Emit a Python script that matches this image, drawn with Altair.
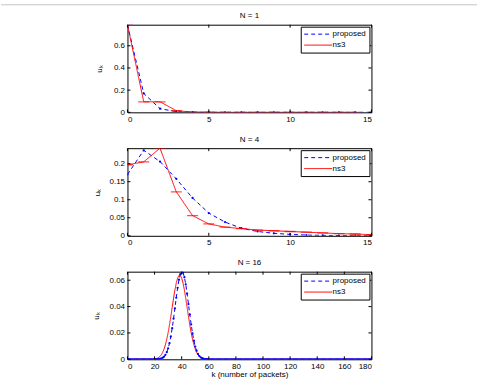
import altair as alt
import pandas as pd

FONT = "Liberation Sans"
BLUE = "#0000ff"
RED = "#ff0000"

# ---------------- N = 1 ----------------
k_n1_prop = [0, 1, 2, 3, 4, 5, 6, 7, 8, 9, 10, 11, 12, 13, 14, 15]
prop_n1 = [0.79, 0.17, 0.033, 0.006, 0.001, 0.0002, 0.0, 0.0, 0.0, 0.0, 0.0, 0.0, 0.0, 0.0, 0.0, 0.0]
k_n1_ns3 = [0, 1, 2, 3, 4, 5, 6, 7, 8, 9, 10, 11, 12, 13, 14]
ns3_n1 = [0.79, 0.095, 0.095, 0.015, 0.002, 0.0005, 0.0, 0.0, 0.0, 0.0, 0.0, 0.0, 0.0, 0.0, 0.0]

# ---------------- N = 4 ----------------
k_n4 = [0, 1, 2, 3, 4, 5, 6, 7, 8, 9, 10, 11, 12, 13, 14, 15]
prop_n4 = [0.17, 0.237, 0.206, 0.158, 0.105, 0.063, 0.038, 0.021, 0.012, 0.007,
           0.004, 0.002, 0.0012, 0.0007, 0.0004, 0.0002]
ns3_n4 = [0.197, 0.205, 0.243, 0.122, 0.056, 0.033, 0.024, 0.020, 0.016, 0.014,
          0.012, 0.010, 0.008, 0.006, 0.005, 0.003]

# ---------------- N = 16 ----------------
k_n16 = list(range(181))
prop_n16 = [
    0, 0, 0, 0, 0, 0, 0, 0, 0, 0,
    0, 0, 0, 0, 0, 0, 0, 0, 0, 0,
    0, 0.00005, 0.0001, 0.0002, 0.0004, 0.0007, 0.0012, 0.0020, 0.0034, 0.0054,
    0.0083, 0.0122, 0.0173, 0.0236, 0.0308, 0.0387, 0.0467, 0.0542, 0.0604, 0.0646,
    0.0664, 0.0657, 0.0623, 0.0569, 0.0498, 0.0419, 0.0339, 0.0264, 0.0197, 0.0141,
    0.0097, 0.0065, 0.0041, 0.0025, 0.0015, 0.0008, 0.0005, 0.0002, 0.0001, 0.00005,
    0, 0, 0, 0, 0, 0, 0, 0, 0, 0,
    0, 0, 0, 0, 0, 0, 0, 0, 0, 0,
    0, 0, 0, 0, 0, 0, 0, 0, 0, 0,
    0, 0, 0, 0, 0, 0, 0, 0, 0, 0,
    0, 0, 0, 0, 0, 0, 0, 0, 0, 0,
    0, 0, 0, 0, 0, 0, 0, 0, 0, 0,
    0, 0, 0, 0, 0, 0, 0, 0, 0, 0,
    0, 0, 0, 0, 0, 0, 0, 0, 0, 0,
    0, 0, 0, 0, 0, 0, 0, 0, 0, 0,
    0, 0, 0, 0, 0, 0, 0, 0, 0, 0,
    0, 0, 0, 0, 0, 0, 0, 0, 0, 0,
    0, 0, 0, 0, 0, 0, 0, 0, 0, 0,
    0,
]
ns3_n16 = [
    0, 0, 0, 0, 0, 0, 0, 0, 0, 0,
    0, 0, 0, 0, 0, 0, 0, 0.00005, 0.0001, 0.00015,
    0.0003, 0.0005, 0.0008, 0.0014, 0.0022, 0.0035, 0.0053, 0.0078, 0.0110, 0.0152,
    0.0202, 0.0261, 0.0326, 0.0395, 0.0463, 0.0526, 0.0579, 0.0617, 0.0637, 0.0637,
    0.0617, 0.0579, 0.0526, 0.0463, 0.0395, 0.0326, 0.0261, 0.0202, 0.0152, 0.0110,
    0.0078, 0.0053, 0.0035, 0.0022, 0.0014, 0.0008, 0.0005, 0.0003, 0.00015, 0.0001,
    0.00005, 0, 0, 0, 0, 0, 0, 0, 0, 0,
    0, 0, 0, 0, 0, 0, 0, 0, 0, 0,
    0, 0, 0, 0, 0, 0, 0, 0, 0, 0,
    0, 0, 0, 0, 0, 0, 0, 0, 0, 0,
    0, 0, 0, 0, 0, 0, 0, 0, 0, 0,
    0, 0, 0, 0, 0, 0, 0, 0, 0, 0,
    0, 0, 0, 0, 0, 0, 0, 0, 0, 0,
    0, 0, 0, 0, 0, 0, 0, 0, 0, 0,
    0, 0, 0, 0, 0, 0, 0, 0, 0, 0,
    0, 0, 0, 0, 0, 0, 0, 0, 0, 0,
    0, 0, 0, 0, 0, 0, 0, 0, 0, 0,
    0, 0, 0, 0, 0, 0, 0, 0, 0, 0,
    0,
]

xticks_small = [0, 5, 10, 15]
xticks_large = [0, 20, 40, 60, 80, 100, 120, 140, 160, 180]
yticks_n1 = [0, 0.2, 0.4, 0.6]
yticks_n4 = [0, 0.05, 0.1, 0.15, 0.2]
yticks_n16 = [0, 0.02, 0.04, 0.06]

W, H = 245, 88
SERIES = ["proposed", "ns3"]


def panel(k_prop, prop, k_ns3, ns3, title, xmax, xticks, ymax, yticks,
          xtitle, caps, title_pad, first=False):
    df = pd.DataFrame({
        "k": list(k_prop) + list(k_ns3),
        "u": list(prop) + list(ns3),
        "series": ["proposed"] * len(prop) + ["ns3"] * len(ns3),
    })
    df_prop = pd.DataFrame({"k": list(k_prop), "u": list(prop)})
    df_ns3 = pd.DataFrame({"k": list(k_ns3), "u": list(ns3)})

    xs = alt.Scale(domain=[0, xmax], nice=False, zero=False)
    ys = alt.Scale(domain=[0, ymax], nice=False, zero=False)
    xaxis = alt.Axis(values=xticks, format="d", title=xtitle, labelPadding=3,
                     titlePadding=0, labelOverlap=False)
    yaxis = alt.Axis(values=yticks, format="~g", title="u\u2096",
                     titlePadding=title_pad, labelPadding=3, labelOverlap=False)
    X = alt.X("k:Q", scale=xs, axis=xaxis)
    Y = alt.Y("u:Q", scale=ys, axis=yaxis)

    lines = alt.Chart(df).mark_line(strokeWidth=1, clip=True).encode(
        x=X, y=Y,
        color=alt.Color("series:N", scale=alt.Scale(domain=SERIES, range=[BLUE, RED]),
                        legend=alt.Legend(title=None)),
        strokeDash=alt.StrokeDash("series:N",
                                  scale=alt.Scale(domain=SERIES, range=[[4, 3], [1, 0]]),
                                  legend=alt.Legend(title=None)),
    )
    dots = alt.Chart(df_prop).mark_circle(size=5, color=BLUE, opacity=1, clip=True).encode(
        x=X, y=Y)
    layers = [lines, dots]
    if caps:
        layers.append(alt.Chart(df_ns3).mark_tick(orient="horizontal", size=11, thickness=1.3,
                                                  color=RED, clip=True).encode(x=X, y=Y))
    # inward axis ticks on all four sides (MATLAB box style)
    dxt = pd.DataFrame({"k": xticks})
    dyt = pd.DataFrame({"u": yticks})
    layers += [
        alt.Chart(dxt).mark_rule(color="black", strokeWidth=1).encode(
            x=X, y=alt.value(H), y2=alt.value(H - 3)),
        alt.Chart(dxt).mark_rule(color="black", strokeWidth=1).encode(
            x=X, y=alt.value(0), y2=alt.value(3)),
        alt.Chart(dyt).mark_rule(color="black", strokeWidth=1).encode(
            y=Y, x=alt.value(0), x2=alt.value(3)),
        alt.Chart(dyt).mark_rule(color="black", strokeWidth=1).encode(
            y=Y, x=alt.value(W), x2=alt.value(W - 3)),
    ]
    if first:
        # figure frame line at the top of the window, and the panel title as text
        layers.append(alt.Chart(pd.DataFrame({"a": [0]})).mark_rule(
            color="#c4c4c4", strokeWidth=1).encode(
            x=alt.value(-127), x2=alt.value(478 - 127), y=alt.value(-20)))
        layers.append(alt.Chart(pd.DataFrame({"t": [title]})).mark_text(
            font=FONT, fontSize=8, color="black", baseline="middle", align="center").encode(
            text="t:N", x=alt.value(W / 2), y=alt.value(-9)))
        return alt.layer(*layers).properties(width=W, height=H)
    return alt.layer(*layers).properties(width=W, height=H, title=title)


p1 = panel(k_n1_prop, prop_n1, k_n1_ns3, ns3_n1, "N = 1", 15, xticks_small, 0.79,
           yticks_n1, None, True, 10, first=True)
p2 = panel(k_n4, prop_n4, k_n4, ns3_n4, "N = 4", 15, xticks_small, 0.243,
           yticks_n4, None, True, 8)
p3 = panel(k_n16, prop_n16, k_n16, ns3_n16, "N = 16", 180, xticks_large, 0.0665,
           yticks_n16, "k (number of packets)", False, 9)

chart = alt.vconcat(p1, p2, p3, spacing=11).resolve_scale(
    color="independent", strokeDash="independent"
).resolve_legend(
    color="independent", strokeDash="independent"
).properties(
    padding={"left": 0, "top": 3, "right": 0, "bottom": 0},
    background="white",
).configure_view(
    stroke="black", strokeWidth=1
).configure_axis(
    labelFont=FONT, labelFontSize=8, labelColor="black",
    titleFont=FONT, titleFontSize=8, titleColor="black", titleFontWeight="normal",
    grid=False, ticks=False, domain=False,
).configure_title(
    font=FONT, fontSize=8, fontWeight="normal", color="black", offset=4, anchor="middle"
).configure_legend(
    orient="top-right", offset=2, fillColor="white", strokeColor="black",
    padding=3, labelFont=FONT, labelFontSize=8, labelColor="black",
    symbolType="M-3.5,0H3.5", symbolSize=64, symbolStrokeWidth=1, symbolOffset=10,
    rowPadding=2, labelOffset=10, titlePadding=0, cornerRadius=0,
)

chart.save("out.html", embed_options={"renderer": "svg", "actions": False})
